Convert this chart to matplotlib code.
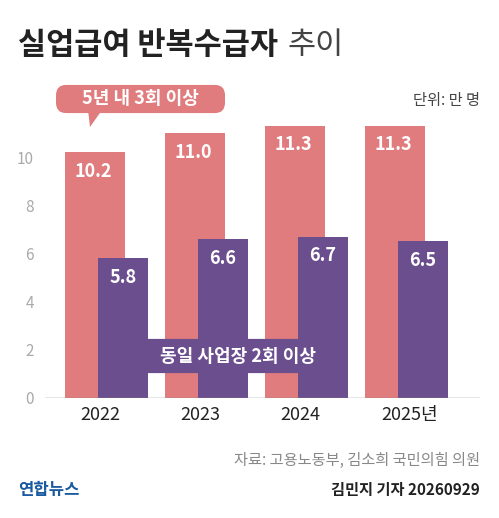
import matplotlib
matplotlib.use("Agg")
import matplotlib.pyplot as plt
from matplotlib.patches import FancyBboxPatch, Polygon

plt.rcParams['font.family'] = ['Noto Sans CJK KR', 'DejaVu Sans']

years = ["2022", "2023", "2024", "2025년"]
three_times = [10.2, 11.0, 11.3, 11.3]
same_site = [5.8, 6.6, 6.7, 6.5]
yticks = [0, 2, 4, 6, 8, 10]

W, H = 499, 518
fig = plt.figure(figsize=(W/100, H/100), dpi=100)
PINK = "#E07C7D"
PURPLE = "#6B4E8E"

y0, y10 = 398, 157
ppu = (y0 - y10) / 10
top_val = (y0 - 120) / ppu
ax = fig.add_axes([45/W, (H-y0)/H, 435/W, (y0-120)/H])
ax.set_xlim(-0.55, 3.8)
ax.set_ylim(0, top_val)
x = range(len(years))
ax.bar([i - 0.05 for i in x], three_times, width=0.6, color=PINK, zorder=2)
ax.bar([i + 0.23 for i in x], same_site, width=0.5, color=PURPLE, zorder=3)
for i in x:
    ax.text(i - 0.07, three_times[i] - 0.4, f"{three_times[i]:.1f}", color="white",
            ha="center", va="top", fontsize=13, fontweight="bold", zorder=4)
    ax.text(i + 0.23, same_site[i] - 0.4, f"{same_site[i]:.1f}", color="white",
            ha="center", va="top", fontsize=13, fontweight="bold", zorder=4)
ax.axhline(0, color="#888888", lw=1, zorder=5)
for s in ax.spines.values():
    s.set_visible(False)
ax.set_yticks(yticks)
ax.set_yticklabels([str(v) for v in yticks], color="#aaaaaa", fontsize=11)
ax.tick_params(axis="y", length=0, pad=8)
ax.set_xticks([0, 1, 2, 3.1])
ax.set_xticklabels(years, fontsize=13, color="#222222")
ax.tick_params(axis="x", length=0, pad=6)

def px(xp, yp):
    return xp / W, 1 - yp / H

fig.text(*px(18, 45), "실업급여 반복수급자", fontsize=22, fontweight="bold", va="center", color="#222222")
fig.text(*px(287, 45), "추이", fontsize=22, va="center", color="#444444")
fig.text(*px(480, 100), "단위: 만 명", fontsize=11, ha="right", va="center", color="#444444")

b1 = FancyBboxPatch(px(58, 111), 165/W, 24/H, boxstyle="round,pad=0.004,rounding_size=0.02",
                    transform=fig.transFigure, facecolor=PINK, edgecolor="none")
fig.patches.append(b1)
fig.patches.append(Polygon([px(88, 110), px(102, 110), px(90, 127)], closed=True,
                           transform=fig.transFigure, facecolor=PINK, edgecolor="none"))
fig.text(*px(140, 99), "5년 내 3회 이상", fontsize=13, fontweight="bold", color="white", ha="center", va="center")

b2 = FancyBboxPatch(px(132, 370), 212/W, 28/H, boxstyle="round,pad=0.006,rounding_size=0.025",
                    transform=fig.transFigure, facecolor=PURPLE, edgecolor="none", zorder=6)
fig.patches.append(b2)
fig.text(*px(238, 356), "동일 사업장 2회 이상", fontsize=13, fontweight="bold", color="white",
         ha="center", va="center", zorder=7)

fig.text(*px(480, 460), "자료: 고용노동부, 김소희 국민의힘 의원", fontsize=11, ha="right", va="center", color="#888888")
fig.text(*px(480, 490), "김민지 기자 20260929", fontsize=11, ha="right", va="center", color="#222222", fontweight="bold")
fig.text(*px(18, 490), "연합뉴스", fontsize=12, ha="left", va="center", color="#1a5aa0", fontweight="bold")

fig.savefig("out.png", dpi=100)
